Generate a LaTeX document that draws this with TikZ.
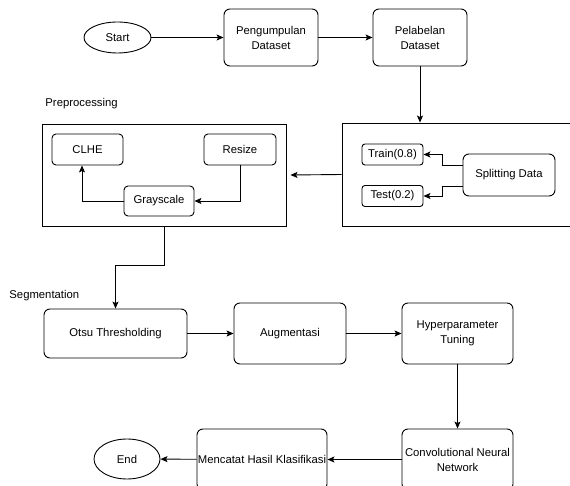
\documentclass[tikz,border=0pt]{standalone}
\usepackage{fontspec}
\setmainfont{Liberation Sans}
\usetikzlibrary{arrows.meta,shapes.geometric}
\begin{document}
\begin{tikzpicture}[x=1pt,y=-1pt,font=\fontsize{11.3}{15}\selectfont,line width=0.9pt,
  box/.style={draw,rounded corners=6pt,align=center,inner sep=0pt},
  smallbox/.style={draw,rounded corners=4pt,align=center,inner sep=0pt},
  term/.style={draw,ellipse,inner sep=0pt},
  frame/.style={draw,inner sep=0pt},
  arr/.style={-{Stealth[length=7pt,width=6pt,inset=1.5pt]}}]
\useasboundingbox (0,0) rectangle (570,486);
\node[term,minimum width=67,minimum height=31] (start) at (117.5,37.5) {Start};
\node[box,minimum width=94,minimum height=57] (kumpul) at (271,37.5) {Pengumpulan\\Dataset};
\node[box,minimum width=94,minimum height=57] (labeling) at (420,37.5) {Pelabelan\\Dataset};
\node[anchor=west,inner sep=0pt] (preptext) at (45,104) {Preprocessing};
\node[frame,minimum width=244,minimum height=102] (prepbox) at (164,175) {};
\node[smallbox,minimum width=71,minimum height=31] (clhe) at (87.5,149.5) {CLHE};
\node[smallbox,minimum width=72,minimum height=31] (resize) at (240,149.5) {Resize};
\node[smallbox,minimum width=70,minimum height=30] (gray) at (159,201) {Grayscale};
\node[frame,minimum width=232,minimum height=103] (splitbox) at (458,174.5) {};
\node[smallbox,rounded corners=3pt,minimum width=61,minimum height=21] (train) at (392.5,154.5) {Train(0.8)};
\node[smallbox,rounded corners=3pt,minimum width=61,minimum height=21] (test) at (392.5,196) {Test(0.2)};
\node[box,minimum width=92,minimum height=42] (split) at (509,175) {Splitting Data};
\node[anchor=west,inner sep=0pt] (segtext) at (9,296) {Segmentation};
\node[box,minimum width=143,minimum height=49] (otsu) at (115.5,333.5) {Otsu Thresholding};
\node[box,minimum width=112,minimum height=61] (augment) at (290,333.5) {Augmentasi};
\node[box,minimum width=111,minimum height=61] (hyper) at (457.5,333.5) {Hyperparameter\\Tuning};
\node[box,minimum width=111,minimum height=61] (cnn) at (457.5,459.5) {Convolutional Neural\\Network};
\node[box,minimum width=130,minimum height=61] (catat) at (262,459.5) {Mencatat Hasil Klasifikasi};
\node[term,minimum width=66,minimum height=40] (finish) at (127,459) {End};
\draw[arr] (start) -- (kumpul);
\draw[arr] (kumpul) -- (labeling);
\draw[arr] (labeling.south) -- (labeling.south |- splitbox.north);
\draw[arr] (splitbox.west) -- ([xshift=4pt]prepbox.east);
\draw[arr] (resize.south) |- (gray.east);
\draw[arr] (gray.west) -| ([xshift=-5.5pt]clhe.south);
\draw[arr] ([yshift=10pt]split.west) -- ++(-20,0) |- (train.east);
\draw[arr] ([yshift=-11pt]split.west) -- ++(-20,0) |- (test.east);
\draw[arr] (prepbox.south) -- ++(0,39) -| (otsu.north);
\draw[arr] (otsu) -- (augment);
\draw[arr] (augment) -- (hyper);
\draw[arr] (hyper) -- (cnn);
\draw[arr] (cnn) -- (catat);
\draw[arr] (catat) -- (finish);
\end{tikzpicture}
\end{document}
